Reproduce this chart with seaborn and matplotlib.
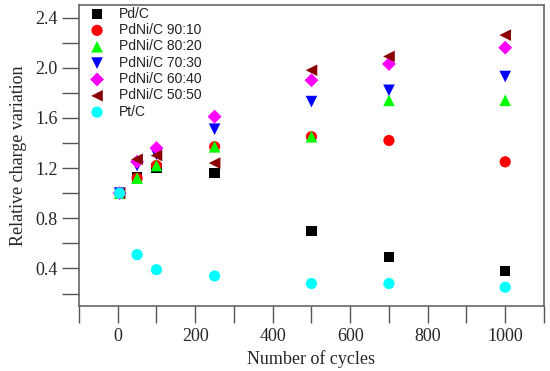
import numpy as np
import pandas as pd
import matplotlib
matplotlib.use("Agg")
import matplotlib.pyplot as plt
from matplotlib.ticker import MultipleLocator
import seaborn as sns

# cycle counts and relative charge values
cycles = [5, 50, 100, 250, 500, 700, 1000]
pd_c = [1.0, 1.13, 1.20, 1.16, 0.70, 0.49, 0.38]
pdni_90_10 = [1.0, 1.12, 1.22, 1.37, 1.45, 1.42, 1.25]
pdni_80_20 = [1.0, 1.12, 1.22, 1.37, 1.45, 1.74, 1.74]
pdni_70_30 = [1.0, 1.22, 1.31, 1.51, 1.73, 1.82, 1.93]
pdni_60_40 = [1.0, 1.25, 1.36, 1.61, 1.90, 2.03, 2.16]
pdni_50_50 = [1.0, 1.27, 1.30, 1.24, 1.98, 2.09, 2.26]
pt_c = [1.0, 0.51, 0.39, 0.34, 0.28, 0.28, 0.25]

labels = ["Pd/C", "PdNi/C 90:10", "PdNi/C 80:20", "PdNi/C 70:30",
          "PdNi/C 60:40", "PdNi/C 50:50", "Pt/C"]
series = [pd_c, pdni_90_10, pdni_80_20, pdni_70_30, pdni_60_40, pdni_50_50, pt_c]
colors = ["black", "red", "#00ff00", "blue", "#ff00ff", "#8b0000", "#00ffff"]
markers = ["s", "o", "^", "v", "D", "<", "o"]

df = pd.DataFrame({
    "cycles": np.tile(cycles, len(labels)),
    "value": np.concatenate(series),
    "sample": np.repeat(labels, len(cycles)),
})

sns.set_style("ticks")
fig = plt.figure(figsize=(5.5, 3.71), dpi=100)
ax = fig.add_axes([0.1436, 0.175, 0.8454, 0.8115])

sizes = {"s": 55, "o": 65, "^": 70, "v": 70, "D": 50, "<": 70}
for lab, col, mk in zip(labels, colors, markers):
    sub = df[df["sample"] == lab]
    sns.scatterplot(data=sub, x="cycles", y="value", color=col, marker=mk,
                    s=sizes[mk], edgecolor="none", label=lab, ax=ax, zorder=3)

ax.set_xlim(-100, 1100)
ax.set_ylim(0.1, 2.5)
ax.xaxis.set_major_locator(MultipleLocator(200))
ax.xaxis.set_minor_locator(MultipleLocator(100))
ax.yaxis.set_major_locator(MultipleLocator(0.4))
ax.yaxis.set_minor_locator(MultipleLocator(0.2))
ax.tick_params(which="both", direction="out", length=12, width=1, color="#555555",
               labelsize=13)
for lbl in ax.get_xticklabels() + ax.get_yticklabels():
    lbl.set_fontfamily("Liberation Serif")
for sp in ax.spines.values():
    sp.set_color("#666666")
    sp.set_linewidth(1.2)

ax.set_xlabel("Number of cycles", fontsize=13, family="Liberation Serif", labelpad=4)
ax.set_ylabel("Relative charge variation", fontsize=13, family="Liberation Serif", labelpad=6)

leg = ax.legend(loc="upper left", frameon=False, handletextpad=0.57,
                labelspacing=0.17, borderaxespad=0.0, bbox_to_anchor=(-0.003, 1.013),
                prop={"family": "Liberation Sans", "size": 10})
for t in leg.get_texts():
    t.set_color("#222222")

fig.savefig("out.png", dpi=100)
